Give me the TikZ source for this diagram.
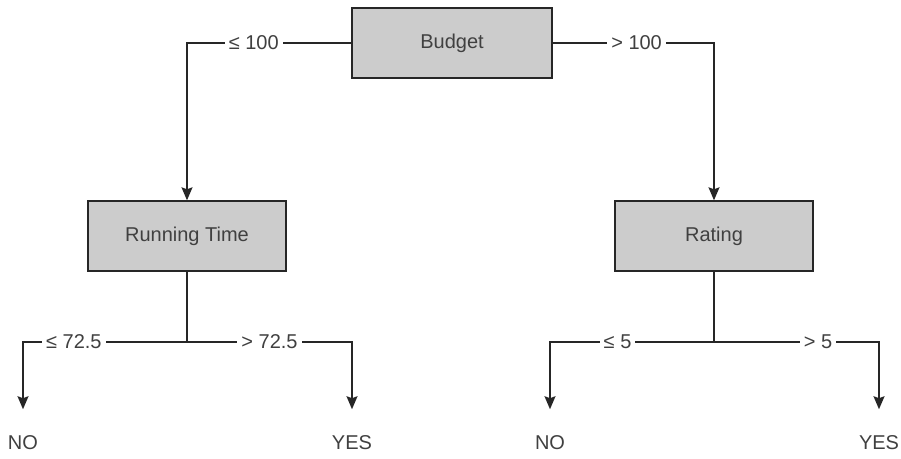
\documentclass[tikz,border=0pt]{standalone}
\usepackage{fontspec}
\setmainfont{Liberation Sans}
\usepackage{tikz}
\usetikzlibrary{arrows.meta}

\begin{document}
\begin{tikzpicture}[x=1pt, y=-1pt, line width=1.4pt, % 1px = 1pt、y軸は下向き
    font=\fontsize{20}{23}\selectfont, text=black!75,
    box/.style={draw=black!85, fill=black!20, minimum width=198pt, minimum height=70pt, inner sep=0pt}, % 判定ノード
    leaf/.style={inner sep=0pt}, % 結果
    cond/.style={fill=white, inner sep=4pt}, % 条件ラベル
    arr/.style={draw=black!85, -{Stealth[length=13pt, width=11pt, inset=2pt]}}]
    \useasboundingbox (0,0) rectangle (901,458); % 余白込みの大きさ

    \node[box, minimum width=200pt] (budget) at (452,43) {Budget};
    \node[box] (rtime) at (187,236) {Running Time};
    \node[box] (rating) at (714,236) {Rating};

    \node[leaf] (no1) at (23,443) {NO};
    \node[leaf] (yes1) at (352,443) {YES};
    \node[leaf] (no2) at (550,443) {NO};
    \node[leaf] (yes2) at (879,443) {YES};

    \coordinate (j1) at (187,342); % 分岐点
    \coordinate (j2) at (714,342);

    \draw[arr] (budget.west) -| node[cond, pos=0.297] {≤ 100} (rtime.north);
    \draw[arr] (budget.east) -| node[cond, pos=0.26] {> 100} (rating.north);

    \draw[draw=black!85] (rtime.south) -- (j1); % 下へ
    \draw[arr, shorten >=26pt] (j1) -| node[cond, pos=0.345] {≤ 72.5} (no1.north);
    \draw[arr, shorten >=26pt] (j1) -| node[cond, pos=0.25] {> 72.5} (yes1.north);

    \draw[draw=black!85] (rating.south) -- (j2);
    \draw[arr, shorten >=26pt] (j2) -| node[cond, pos=0.294] {≤ 5} (no2.north);
    \draw[arr, shorten >=26pt] (j2) -| node[cond, pos=0.315] {> 5} (yes2.north);
\end{tikzpicture}
\end{document}
